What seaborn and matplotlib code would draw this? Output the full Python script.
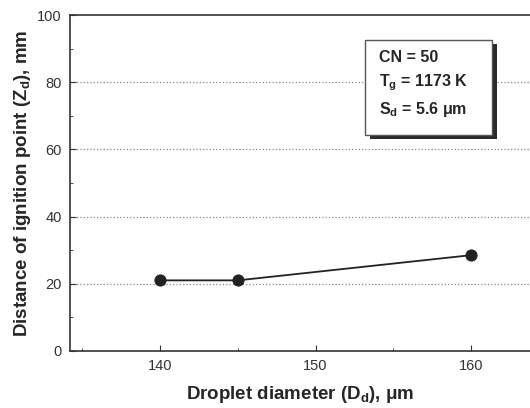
import matplotlib
matplotlib.use("Agg")
import matplotlib.pyplot as plt
import seaborn as sns
import pandas as pd
from matplotlib.ticker import MultipleLocator
from matplotlib.patches import Rectangle

# Data
diameter = [140, 145, 160]
ignition_dist = [21, 21, 28.5]

df = pd.DataFrame({"diameter": diameter, "zd": ignition_dist})

sns.set_style("ticks")
plt.rcParams["font.family"] = ["Liberation Sans", "DejaVu Sans"]
plt.rcParams["mathtext.default"] = "regular"

fig = plt.figure(figsize=(5.3, 4.08), dpi=100)
ax = fig.add_axes([0.132, 0.14, 0.868, 0.823])

sns.lineplot(data=df, x="diameter", y="zd", ax=ax, color="#222222",
             marker="o", markersize=8, linewidth=1.3, markeredgecolor="#222222")

ax.set_xlim(134.2, 163.8)
ax.set_ylim(0, 100)
ax.xaxis.set_major_locator(MultipleLocator(10))
ax.xaxis.set_minor_locator(MultipleLocator(5))
ax.yaxis.set_major_locator(MultipleLocator(20))
ax.yaxis.set_minor_locator(MultipleLocator(10))
ax.tick_params(which="both", direction="in", colors="#333333", labelsize=10.5)
ax.tick_params(which="major", length=4, pad=6)
ax.tick_params(which="minor", length=2.5)
for y in [20, 40, 60, 80]:
    ax.axhline(y, color="#888888", linestyle=":", linewidth=0.9, zorder=0)
for s in ax.spines.values():
    s.set_color("#333333")
    s.set_linewidth(1.2)
ax.spines["right"].set_visible(False)

ax.set_xlabel("Droplet diameter (D$_d$), μm", fontsize=13.5, fontweight="bold", labelpad=8)
ax.set_ylabel("Distance of ignition point (Z$_d$), mm", fontsize=13.5, fontweight="bold", labelpad=3)

# annotation box with a drop shadow
ax.add_patch(Rectangle((0.652, 0.630), 0.276, 0.283, transform=ax.transAxes,
                       facecolor="#2a2a2a", edgecolor="none", zorder=4))
ax.add_patch(Rectangle((0.641, 0.643), 0.276, 0.283, transform=ax.transAxes,
                       facecolor="white", edgecolor="#555555", linewidth=1.0, zorder=5))
ax.text(0.672, 0.895, "CN = 50\nT$_g$ = 1173 K\nS$_d$ = 5.6 μm",
        transform=ax.transAxes, fontsize=11.5, fontweight="bold", va="top", ha="left",
        linespacing=1.5, zorder=6)

fig.savefig("out.png", dpi=100)
